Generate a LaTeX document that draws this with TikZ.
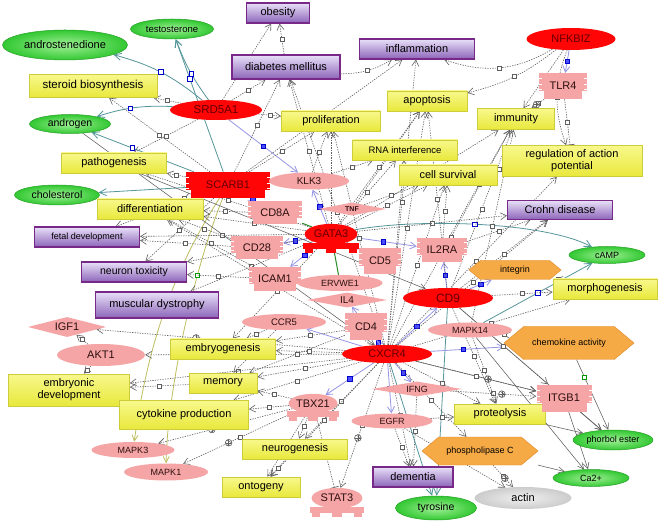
\documentclass[tikz,border=0pt]{standalone}
\usepackage{fontspec}
\setmainfont{Liberation Sans}
\usetikzlibrary{shapes.geometric,arrows.meta,decorations.markings}
\pgfdeclarelayer{back}
\pgfdeclarelayer{edges}
\pgfsetlayers{back,edges,main}
\definecolor{glight}{RGB}{160,240,150}
\definecolor{gfill}{RGB}{50,200,50}
\definecolor{gdark}{RGB}{40,160,40}
\definecolor{ptop}{RGB}{232,224,248}
\definecolor{pmid}{RGB}{205,190,235}
\definecolor{pbot}{RGB}{140,100,185}
\definecolor{pborder}{RGB}{120,40,135}
\definecolor{ytop}{RGB}{248,248,140}
\definecolor{ybot}{RGB}{232,232,60}
\definecolor{yborder}{RGB}{205,205,60}
\definecolor{rfill}{RGB}{255,5,5}
\definecolor{rtext}{RGB}{100,0,0}
\definecolor{pkfill}{RGB}{245,165,165}
\definecolor{pktext}{RGB}{45,15,15}
\definecolor{ofill}{RGB}{246,170,70}
\definecolor{odark}{RGB}{225,135,35}
\definecolor{tealc}{RGB}{85,150,155}
\definecolor{lavc}{RGB}{150,150,230}
\definecolor{olivec}{RGB}{190,190,95}
\definecolor{edgegray}{RGB}{95,95,95}
\definecolor{greenc}{RGB}{40,140,40}
\tikzset{
  base/.style={inner sep=0pt, font=\fontsize{11}{12}\selectfont},
  smf/.style={font=\fontsize{9}{10}\selectfont},
  gell/.style={base, ellipse, draw=gdark, line width=0.5pt, inner color=glight, outer color=gfill},
  pbox/.style={base, rectangle, draw=pborder, line width=1.1pt, top color=ptop, middle color=pmid, bottom color=pbot},
  ybox/.style={base, rectangle, draw=yborder, line width=0.7pt, top color=ytop, bottom color=ybot},
  rell/.style={base, ellipse, fill=rfill, text=rtext},
  pkell/.style={base, smf, ellipse, fill=pkfill, text=pktext},
  pkdia/.style={base, diamond, aspect=5, fill=pkfill, text=pktext},
  sqmark/.style={draw=edgegray, solid, fill=white, rectangle, minimum size=4pt, inner sep=0pt, line width=0.5pt},
  bsqmark/.style={draw=blue!80!black, solid, fill=white, rectangle, minimum size=4.5pt, inner sep=0pt, line width=0.7pt},
  bfmark/.style={draw=blue!80!black, solid, fill=blue!70, rectangle, minimum size=4.5pt, inner sep=0pt, line width=0.5pt},
  gsqmark/.style={draw=green!60!black, solid, fill=white, rectangle, minimum size=4pt, inner sep=0pt, line width=0.6pt},
  plmark/.style={draw=edgegray, solid, fill=white, circle, minimum size=6.5pt, inner sep=0pt, line width=0.5pt,
    path picture={\draw[edgegray,line width=0.4pt] (path picture bounding box.north) -- (path picture bounding box.south) (path picture bounding box.west) -- (path picture bounding box.east);}},
  withsq/.style={postaction=decorate, decoration={markings, mark=at position #1 with {\node[sqmark]{};}}},
  withsq/.default=0.5,
  withpl/.style={postaction=decorate, decoration={markings, mark=at position #1 with {\node[plmark]{};}}},
  withpl/.default=0.6,
  withbsq/.style={postaction=decorate, decoration={markings, mark=at position #1 with {\node[bsqmark]{};}}},
  withbsq/.default=0.5,
  withbf/.style={postaction=decorate, decoration={markings, mark=at position #1 with {\node[bfmark]{};}}},
  withbf/.default=0.5,
  withgsq/.style={postaction=decorate, decoration={markings, mark=at position #1 with {\node[gsqmark]{};}}},
  withgsq/.default=0.5,
  dep/.style={draw=edgegray, dash pattern=on 1.3pt off 1.2pt, line width=0.6pt, -{Straight Barb[length=6pt,width=7pt]}, withsq},
  depp/.style={dep, withpl},
  depbar/.style={draw=edgegray, dash pattern=on 1.3pt off 1.2pt, line width=0.6pt, -{Bar[width=9pt,line width=0.7pt]}, withsq},
  tealln/.style={draw=tealc, line width=0.8pt, -{Straight Barb[length=7pt,width=7pt]}},
  lavln/.style={draw=lavc, line width=0.8pt, -{Straight Barb[length=6pt,width=7pt]}},
  grnln/.style={draw=greenc, line width=1pt},
  olvln/.style={draw=olivec, line width=0.8pt, -{Straight Barb[length=6pt,width=6pt]}},
  gsol/.style={draw=edgegray, line width=0.55pt, -{Straight Barb[length=6pt,width=6pt]}},
}
% receptor shape: name,x,y,w,h,fill,textcolor,text
\newcommand\recnode[8]{%
  \fill[#6] ({#2-#4/2},{#3-#5/2}) rectangle ({#2+#4/2},{#3+#5*0.2});
  \fill[#6] ({#2-#4/2+5},{#3+#5*0.2}) rectangle ({#2+#4/2-5},{#3+#5/2});
  \draw[white,line width=0.6pt] ({#2-#4/2},{#3-#5*0.3}) -- ++(3,0) ({#2-#4/2},{#3-#5*0.08}) -- ++(3,0) ({#2-#4/2},{#3+#5*0.12}) -- ++(3,0)
     ({#2+#4/2},{#3-#5*0.3}) -- ++(-3,0) ({#2+#4/2},{#3-#5*0.08}) -- ++(-3,0) ({#2+#4/2},{#3+#5*0.12}) -- ++(-3,0);
  \node[base,text=#7,minimum width=#4,minimum height=#5] (#1) at (#2,#3) {#8};}
% transcription factor shape
\newcommand\tfnode[8]{%
  \fill[#6] ({#2-#4/2},{#3+#5*0.16}) rectangle ({#2+#4/2},{#3+#5*0.36});
  \fill[#6] ({#2-#4/2+2},{#3+#5*0.36}) rectangle ({#2-#4/2+10},{#3+#5/2});
  \fill[#6] ({#2-5},{#3+#5*0.36}) rectangle ({#2+5},{#3+#5/2});
  \fill[#6] ({#2+#4/2-10},{#3+#5*0.36}) rectangle ({#2+#4/2-2},{#3+#5/2});
  \node[base,ellipse,fill=#6,text=#7,minimum width={#4*0.94},minimum height={#5*0.68}] (#1) at (#2,{#3-#5*0.13}) {#8};}
% hexagon: name,x,y,w,h,text
\newcommand\hexnode[6]{%
  \filldraw[draw=odark,line width=0.4pt,fill=ofill] ({#2-#4/2},#3) -- ({#2-#4/2+#5*0.6},{#3-#5/2}) -- ({#2+#4/2-#5*0.6},{#3-#5/2}) -- ({#2+#4/2},#3) -- ({#2+#4/2-#5*0.6},{#3+#5/2}) -- ({#2-#4/2+#5*0.6},{#3+#5/2}) -- cycle;
  \node[base,smf,minimum width=#4,minimum height=#5] (#1) at (#2,#3) {#6};}

\begin{document}
\begin{tikzpicture}[x=1pt,y=-1pt]
\begin{pgfonlayer}{back}
\fill[white] (0,0) rectangle (661,526);
\end{pgfonlayer}
\useasboundingbox (0,0) rectangle (661,526);

% green metabolites
\node[gell,minimum width=125,minimum height=30] (andro) at (65,45) {androstenedione};
\node[gell,font=\fontsize{9.5}{11}\selectfont,minimum width=83,minimum height=20] (testos) at (172,29) {testosterone};
\node[gell,font=\fontsize{10.5}{12}\selectfont,minimum width=81,minimum height=19] (androgen) at (70,124) {androgen};
\node[gell,font=\fontsize{10.5}{12}\selectfont,minimum width=85,minimum height=20] (cholest) at (57,195) {cholesterol};
\node[gell,smf,minimum width=76,minimum height=17] (cAMP) at (607,255) {cAMP};
\node[gell,smf,minimum width=80,minimum height=20] (phorbol) at (613,440) {phorbol ester};
\node[gell,smf,minimum width=76,minimum height=17] (Ca) at (591,478) {Ca2+};
\node[gell,font=\fontsize{10.5}{12}\selectfont,minimum width=81,minimum height=24] (tyrosine) at (436,508) {tyrosine};
\node[base,ellipse,inner color=gray!12,outer color=gray!40,minimum width=97,minimum height=22] (actin) at (523,498) {actin};

% purple diseases
\node[pbox,minimum width=63,minimum height=20] (obesity) at (278,13) {obesity};
\node[pbox,minimum width=108,minimum height=24] (diabetes) at (286,67) {diabetes mellitus};
\node[pbox,minimum width=115,minimum height=20] (inflam) at (417,49) {inflammation};
\node[pbox,minimum width=105,minimum height=19] (crohn) at (560,210) {Crohn disease};
\node[pbox,smf,minimum width=105,minimum height=20] (fetal) at (87,237) {fetal development};
\node[pbox,font=\fontsize{10.5}{12}\selectfont,minimum width=105,minimum height=20] (neurontox) at (134,272) {neuron toxicity};
\node[pbox,minimum width=123,minimum height=26] (muscular) at (157,305) {muscular dystrophy};
\node[pbox,minimum width=80,minimum height=20] (dementia) at (413,477) {dementia};

% yellow processes
\node[ybox,font=\fontsize{11.5}{12}\selectfont,minimum width=128,minimum height=23] (steroid) at (93,86) {steroid biosynthesis};
\node[ybox,minimum width=105,minimum height=20] (pathogen) at (114,163) {pathogenesis};
\node[ybox,minimum width=106,minimum height=20] (diff) at (150,209) {differentiation};
\node[ybox,minimum width=99,minimum height=20] (prolif) at (331,121) {proliferation};
\node[ybox,minimum width=80,minimum height=20] (apoptosis) at (427,101) {apoptosis};
\node[ybox,minimum width=77,minimum height=21] (immunity) at (516,119) {immunity};
\node[ybox,font=\fontsize{9.5}{11}\selectfont,minimum width=105,minimum height=20] (rnai) at (405,150) {RNA interference};
\node[ybox,minimum width=98,minimum height=20] (cellsurv) at (448,175) {cell survival};
\node[ybox,align=center,minimum width=140,minimum height=31] (regul) at (572,161) {regulation of action\\potential};
\node[ybox,minimum width=104,minimum height=20] (morpho) at (605,289) {morphogenesis};
\node[ybox,minimum width=105,minimum height=20] (embryog) at (223,349) {embryogenesis};
\node[ybox,align=center,minimum width=121,minimum height=32] (embryonic) at (69,390) {embryonic\\development};
\node[ybox,minimum width=68,minimum height=20] (memory) at (223,383) {memory};
\node[ybox,minimum width=129,minimum height=29] (cytokine) at (184,415) {cytokine production};
\node[ybox,minimum width=105,minimum height=20] (neurog) at (295,449) {neurogenesis};
\node[ybox,minimum width=78,minimum height=20] (ontogeny) at (261,487) {ontogeny};
\node[ybox,minimum width=91,minimum height=20] (proteol) at (500,414) {proteolysis};

% red genes
\node[rell,minimum width=89,minimum height=22] (NFKBIZ) at (571,39) {NFKBIZ};
\node[rell,font=\fontsize{11.5}{12}\selectfont,minimum width=92,minimum height=20] (SRD5A1) at (216,110) {SRD5A1};
\recnode{SCARB1}{228}{185}{84}{26}{rfill}{rtext}{SCARB1}
\tfnode{GATA3}{331}{238}{56}{30}{rfill}{rtext}{GATA3}
\node[rell,font=\fontsize{12}{13}\selectfont,minimum width=90,minimum height=20] (CD9) at (448,298) {CD9};
\node[rell,minimum width=90,minimum height=18] (CXCR4) at (387,354) {CXCR4};

% pink genes
\recnode{TLR4}{563}{86}{48}{26}{pkfill}{pktext}{TLR4}
\node[pkell,font=\fontsize{10}{11}\selectfont,minimum width=80,minimum height=17] (KLK3) at (309,181) {KLK3};
\node[pkdia,font=\fontsize{7}{8}\selectfont\bfseries,minimum width=68,minimum height=13] (TNF) at (352,209) {TNF};
\recnode{CD8A}{275}{213}{54}{23}{pkfill}{pktext}{CD8A}
\recnode{CD28}{257}{248}{52}{23}{pkfill}{pktext}{CD28}
\recnode{ICAM1}{275}{279}{52}{24}{pkfill}{pktext}{ICAM1}
\recnode{CD5}{380}{261}{42}{26}{pkfill}{pktext}{CD5}
\node[pkell,minimum width=85,minimum height=16] (ERVWE1) at (340,283) {ERVWE1};
\node[pkdia,font=\fontsize{10}{11}\selectfont,minimum width=80,minimum height=15] (IL4) at (347,300) {IL4};
\node[pkell,font=\fontsize{9.5}{11}\selectfont,minimum width=84,minimum height=16] (CCR5) at (284,322) {CCR5};
\recnode{CD4}{366}{327}{42}{27}{pkfill}{pktext}{CD4}
\recnode{IL2RA}{442}{250}{50}{24}{pkfill}{pktext}{IL2RA}
\node[pkell,minimum width=84,minimum height=15] (MAPK14) at (470,330) {MAPK14};
\node[pkdia,minimum width=78,minimum height=20] (IGF1) at (67,327) {IGF1};
\node[pkell,font=\fontsize{11}{12}\selectfont,minimum width=88,minimum height=22] (AKT1) at (101,355) {AKT1};
\node[pkell,minimum width=83,minimum height=16] (MAPK3) at (133,450) {MAPK3};
\node[pkell,minimum width=84,minimum height=17] (MAPK1) at (166,472) {MAPK1};
\tfnode{TBX21}{313}{407}{52}{28}{pkfill}{pktext}{TBX21}
\tfnode{STAT3}{337}{502}{54}{30}{pkfill}{pktext}{STAT3}
\node[pkell,minimum width=81,minimum height=15] (EGFR) at (392,421) {EGFR};
\node[pkdia,smf,minimum width=90,minimum height=15] (IFNG) at (417,389) {IFNG};
\recnode{ITGB1}{564}{398}{55}{27}{pkfill}{pktext}{ITGB1}

% orange
\hexnode{integrin}{515}{270}{92}{19}{integrin}
\hexnode{chemok}{569}{343}{130}{33}{chemokine activity}
\hexnode{phospho}{480}{451}{116}{28}{phospholipase C}

\begin{pgfonlayer}{edges}
% teal
\draw[tealln,withbsq=0.45] (SRD5A1) to[bend left=8] (testos);
\draw[tealln,withbsq=0.5] (SRD5A1) to[bend right=12] (andro);
\draw[tealln,withbsq=0.55] (SRD5A1) to[bend right=10] (androgen);
\draw[tealln,withbsq=0.6] (SCARB1) -- (androgen);
\draw[tealln,withbsq=0.7] (SCARB1) -- (testos);
\draw[tealln] (SCARB1) -- (cholest);
\draw[tealln,withbsq=0.5] (GATA3) .. controls (420,218) and (545,222) .. (cAMP);
\draw[tealln,withbsq=0.5] (MAPK14) -- (cAMP);
\draw[tealln,withbsq=0.75] (CD9) -- (tyrosine);
\draw[tealln] (CXCR4) -- (tyrosine);
% lavender
\draw[lavln,withbf=0.5] (SRD5A1) -- (KLK3);
\draw[lavln,withbf=0.5] (NFKBIZ) -- (TLR4);
\draw[lavln,withbf=0.5] (GATA3) -- (CD28);
\draw[lavln,withbf=0.5] (GATA3) -- (KLK3);
\draw[lavln,withbf=0.45] (GATA3) -- (IL2RA);
\draw[lavln] (GATA3) -- (CD5);
\draw[lavln,withbf=0.5] (GATA3) -- (ICAM1);
\draw[lavln,withbf=0.5] (CD9) -- (IL2RA);
\draw[lavln,withbf=0.5] (CD9) -- (integrin);
\draw[lavln,withbf=0.5] (CXCR4) -- (CD4);
\draw[lavln,withbf=0.5] (CXCR4) -- (TBX21);
\draw[lavln,withbf=0.5] (CXCR4) -- (EGFR);
\draw[lavln,withbf=0.5] (CXCR4) -- (IFNG);
\draw[lavln,withbf=0.45] (CXCR4) -- (chemok);
\draw[lavln] (CXCR4) -- (IL4);
\draw[lavln] (CXCR4) -- (CCR5);
\draw[lavln,withbf=0.5] (SCARB1) -- (CD8A);
\draw[lavln,withbf=0.5] (CXCR4) -- (CD9);
% green
\draw[grnln] (CD8A) -- (GATA3);
\draw[grnln] (GATA3) -- (ERVWE1);
% olive
\draw[olvln] (SCARB1) .. controls (160,290) and (143,380) .. (MAPK3);
\draw[olvln,withgsq=0.3] (SCARB1) .. controls (190,280) and (167,400) .. (MAPK1);
% gray solid
\draw[gsol] (ITGB1) -- (phorbol);
\draw[gsol] (ITGB1) -- (Ca);
\draw[gsol] (phospho) -- (Ca);
\draw[gsol,withgsq=0.25] (chemok) -- (phorbol);
\draw[gsol] (CD9) -- (phorbol);
\draw[gsol] (MAPK14) -- (Ca);
\draw[gsol] (CXCR4) -- (ITGB1);
\draw[gsol] (proteol) -- (phorbol);
\draw[gsol] (androgen) -- (CXCR4);
\draw[gsol] (pathogen) -- (CD9);
% dashed relations
\draw[dep] (NFKBIZ) to[bend left=25] (inflam);
\draw[dep] (NFKBIZ) to[bend left=12] (apoptosis);
\draw[dep] (NFKBIZ) -- (immunity);
\draw[dep] (NFKBIZ) to[bend right=20] (regul);
\draw[depp] (TLR4) -- (immunity);
\draw[depbar] (TLR4) -- (regul);
\draw[dep] (SRD5A1) -- (obesity);
\draw[dep] (SRD5A1) -- (diabetes);
\draw[dep] (SRD5A1) -- (prolif);
\draw[dep] (SRD5A1) -- (steroid);
\draw[dep] (SRD5A1) -- (pathogen);
\draw[dep] (SCARB1) -- (diabetes);
\draw[dep] (SCARB1) -- (inflam);
\draw[dep] (SCARB1) -- (prolif);
\draw[dep] (SCARB1) -- (pathogen);
\draw[dep] (SCARB1) -- (steroid);
\draw[dep] (SCARB1) -- (fetal);
\draw[dep] (SCARB1) -- (neurontox);
\draw[dep] (SCARB1) -- (diff);
\draw[dep] (diabetes) -- (obesity);
\draw[dep] (diabetes) to[bend right=15] (inflam);
\draw[dep] (GATA3) -- (diabetes);
\draw[dep] (GATA3) -- (prolif);
\draw[dep] (GATA3) -- (apoptosis);
\draw[dep] (GATA3) -- (rnai);
\draw[dep] (GATA3) -- (cellsurv);
\draw[dep] (GATA3) -- (immunity);
\draw[dep] (GATA3) -- (diff);
\draw[dep] (GATA3) -- (crohn);
\draw[dep] (GATA3) -- (muscular);
\draw[dep] (GATA3) -- (embryog);
\draw[dep] (GATA3) -- (pathogen);
\draw[dep] (GATA3) -- (fetal);
\draw[dep] (GATA3) -- (neurontox);
\draw[dep] (CXCR4) -- (inflam);
\draw[dep] (CXCR4) -- (apoptosis);
\draw[dep] (CXCR4) -- (prolif);
\draw[dep] (CXCR4) -- (cellsurv);
\draw[dep] (CXCR4) -- (immunity);
\draw[dep] (CXCR4) -- (rnai);
\draw[dep] (CXCR4) -- (morpho);
\draw[dep] (CXCR4) -- (crohn);
\draw[dep] (CXCR4) -- (embryog);
\draw[dep] (CXCR4) -- (memory);
\draw[dep] (CXCR4) -- (cytokine);
\draw[dep] (CXCR4) -- (neurog);
\draw[dep] (CXCR4) -- (ontogeny);
\draw[dep] (CXCR4) -- (proteol);
\draw[dep] (CXCR4) -- (dementia);
\draw[depp] (CXCR4) -- (IGF1);
\draw[depp] (CXCR4) -- (AKT1);
\draw[dep] (CXCR4) -- (embryonic);
\draw[dep] (CXCR4) -- (diff);
\draw[depp] (CXCR4) -- (STAT3);
\draw[dep] (CXCR4) -- (phospho);
\draw[depp] (CXCR4) -- (ITGB1);
\draw[dep] (CXCR4) -- (regul);
\draw[dep] (CXCR4) -- (diabetes);
\draw[dep] (CD9) -- (crohn);
\draw[dep] (CD9) -- (morpho);
\draw[dep] (CD9) -- (proteol);
\draw[dep] (CD9) -- (ITGB1);
\draw[dep] (CD9) -- (apoptosis);
\draw[dep] (CD9) -- (immunity);
\draw[dep] (IL2RA) -- (immunity);
\draw[dep] (IL2RA) -- (crohn);
\draw[dep] (IL2RA) -- (cellsurv);
\draw[depp] (phospho) -- (actin);
\draw[dep] (EGFR) -- (dementia);
\draw[dep] (EGFR) -- (proteol);
\draw[dep] (EGFR) -- (actin);
\draw[dep] (IFNG) -- (dementia);
\draw[depp] (IFNG) -- (ITGB1);
\draw[dep] (TBX21) -- (neurog);
\draw[dep] (TBX21) -- (memory);
\draw[dep] (TBX21) -- (cytokine);
\draw[dep] (TBX21) -- (ontogeny);
\draw[depbar] (TBX21) -- (STAT3);
\draw[dep] (neurog) -- (ontogeny);
\draw[dep] (AKT1) -- (embryonic);
\draw[dep] (memory) -- (embryonic);
\draw[depp] (TBX21) -- (MAPK3);
\draw[depp] (TBX21) -- (MAPK1);
\draw[dep] (MAPK14) -- (chemok);
\draw[dep] (MAPK14) -- (proteol);
\draw[dep] (MAPK14) -- (immunity);
\draw[dep] (CCR5) -- (memory);
\draw[dep] (CCR5) -- (embryog);
\draw[dep] (CD4) -- (embryog);
\draw[dep] (CD4) -- (memory);
\draw[dep] (KLK3) -- (prolif);
\draw[dep] (KLK3) -- (rnai);
\draw[dep] (TNF) -- (apoptosis);
\draw[dep] (TNF) -- (cellsurv);
\draw[dep] (ICAM1) -- (diff);
\draw[dep] (ICAM1) -- (neurontox);
\draw[dep] (CD28) -- (diff);
\draw[dep] (CD28) -- (fetal);
\draw[dep] (CD8A) -- (diff);
\draw[dep] (integrin) -- (morpho);
\draw[dep] (AKT1) -- (IGF1);
\draw[dep] (cellsurv) -- (regul);
\end{pgfonlayer}
\end{tikzpicture}
\end{document}
